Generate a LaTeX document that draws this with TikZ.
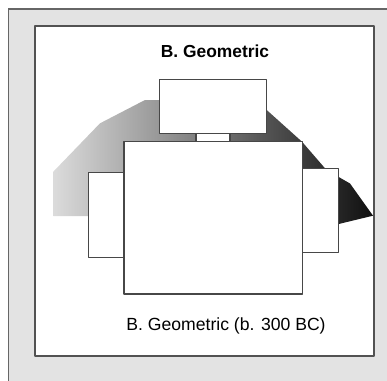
\documentclass[tikz,border=0pt]{standalone}
\usepackage{fontspec}
\setmainfont{Liberation Sans}
\begin{document}
\begin{tikzpicture}[x=1pt,y=-1pt,
  box/.style={draw=black!72,fill=white,line width=1.1pt,line join=round},
  lbl/.style={anchor=base,inner sep=0pt,font=\fontsize{17.6}{20}\selectfont}]
\useasboundingbox (0,0) rectangle (387,380);
\clip (0,0) rectangle (387,380);
\fill[white] (0,0) rectangle (387,380);
% outer frame
\draw[draw=black!60,fill=black!11,line width=1.6pt] (8.5,8.7) rectangle (400,400);
% inner frame
\draw[draw=black!68,fill=white,line width=1.6pt,line join=round] (35,25.7) rectangle (374,356);
% shadow
\shade[left color=black!14,right color=black!94]
  (53.3,216) -- (53.3,171.7) -- (100,123.3) -- (145,100) -- (160,100)
  -- (266.7,110) -- (302,141.7) -- (325,168.3) -- (338.7,177)
  -- (350,183.5) -- (373,215.7) -- (338.7,224) -- (88.3,216) -- cycle;
% rectangles
\draw[box] (159.7,79.3) rectangle (266.7,133.3);
\draw[box] (196,133.3) rectangle (230,141.7);
\draw[box] (88.3,172.7) rectangle (124,257.7);
\draw[box] (302.7,168.3) rectangle (338.7,252.3);
\draw[box] (124,141.7) rectangle (302.7,294);
% texts
\node[lbl,font=\fontsize{17.4}{20}\selectfont\bfseries] (title) at (215,57.7) {B. Geometric};
\node[lbl] (caption) at (226,330) {B. Geometric (b. 300 BC)};
\end{tikzpicture}
\end{document}
